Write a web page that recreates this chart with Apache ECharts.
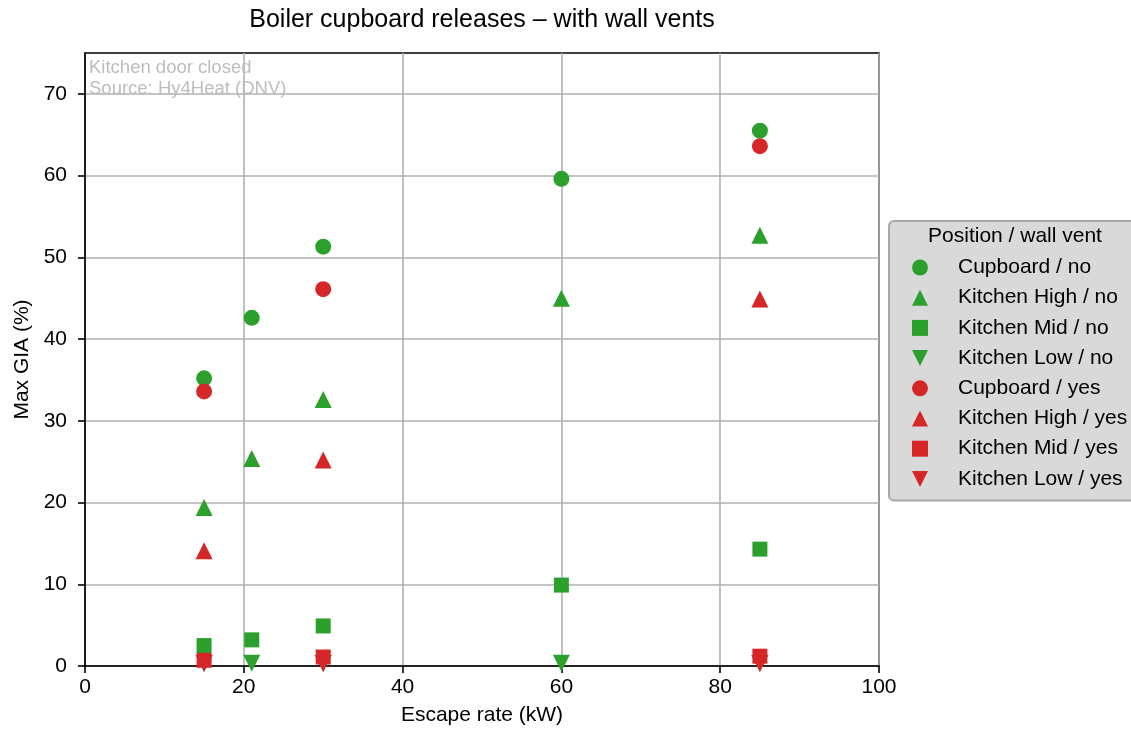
<!DOCTYPE html>
<html>
<head>
<meta charset="utf-8">
<script src="https://cdn.jsdelivr.net/npm/echarts@6/dist/echarts.min.js"></script>
<style>
html,body{margin:0;padding:0;background:#fff;}
#chart{width:1131px;height:738px;}
</style>
</head>
<body>
<div id="chart"></div>
<script>
// ---- data ----
const cupboardNoX = [15, 21, 30, 60, 85];
const cupboardNoY = [35.2, 42.6, 51.3, 59.6, 65.5];
const highNoX = [15, 21, 30, 60, 85];
const highNoY = [19.4, 25.4, 32.6, 45.0, 52.7];
const midNoX = [15, 21, 30, 60, 85];
const midNoY = [2.5, 3.2, 4.9, 9.9, 14.3];
const lowNoX = [15, 21, 30, 60, 85];
const lowNoY = [0.3, 0.35, 0.3, 0.35, 0.3];
const cupboardYesX = [15, 30, 85];
const cupboardYesY = [33.6, 46.1, 63.6];
const highYesX = [15, 30, 85];
const highYesY = [14.1, 25.2, 44.9];
const midYesX = [15, 30, 85];
const midYesY = [0.7, 1.1, 1.2];
const lowYesX = [15, 30, 85];
const lowYesY = [0.3, 0.3, 0.3];

const seriesNames = ['Cupboard / no', 'Kitchen High / no', 'Kitchen Mid / no', 'Kitchen Low / no',
  'Cupboard / yes', 'Kitchen High / yes', 'Kitchen Mid / yes', 'Kitchen Low / yes'];
const xTicks = [0, 20, 40, 60, 80, 100];
const yTicks = [0, 10, 20, 30, 40, 50, 60, 70];

const titleText = 'Boiler cupboard releases – with wall vents';
const xName = 'Escape rate (kW)';
const yName = 'Max GIA (%)';
const noteText = 'Kitchen door closed\nSource: Hy4Heat (DNV)';
const legendTitle = 'Position / wall vent';

// ---- styling ----
const GREEN = '#2ca02c', RED = '#d62728';
const FONT = '"Liberation Sans", Arial, Helvetica, sans-serif';
const DOWN = 'path://M0,0L2,0L1,2Z';

function pairs(xs, ys){ return xs.map((x, i) => [x, ys[i]]); }

const seriesData = [
  [cupboardNoX, cupboardNoY, GREEN, 'circle'],
  [highNoX, highNoY, GREEN, 'triangle'],
  [midNoX, midNoY, GREEN, 'rect'],
  [lowNoX, lowNoY, GREEN, DOWN],
  [cupboardYesX, cupboardYesY, RED, 'circle'],
  [highYesX, highYesY, RED, 'triangle'],
  [midYesX, midYesY, RED, 'rect'],
  [lowYesX, lowYesY, RED, DOWN]
];

const series = seriesData.map((d, i) => ({
  name: seriesNames[i],
  type: 'scatter',
  symbol: d[3],
  symbolSize: d[3] === 'circle' ? 16 : (d[3] === 'rect' ? 15 : 17),
  itemStyle: { color: d[2], opacity: 1 },
  data: pairs(d[0], d[1]),
  z: 3 + i,
  emphasis: { disabled: true },
  clip: false
}));

const chart = echarts.init(document.getElementById('chart'), null, { renderer: 'canvas' });
chart.setOption({
  animation: false,
  backgroundColor: '#ffffff',
  textStyle: { fontFamily: FONT },
  title: {
    text: titleText,
    left: 482, top: 8, textAlign: 'center', padding: 0,
    textStyle: { fontFamily: FONT, fontSize: 25, fontWeight: 'normal', color: '#000' }
  },
  grid: {
    left: 85, right: 252, top: 53, bottom: 72,
    show: true, borderColor: '#000', borderWidth: 1.6, backgroundColor: 'transparent'
  },
  xAxis: {
    type: 'value', min: 0, max: 100, interval: 20,
    name: xName, nameLocation: 'middle', nameGap: 39,
    nameTextStyle: { fontFamily: FONT, fontSize: 21, color: '#000' },
    axisLine: { show: true, onZero: false, lineStyle: { color: '#000', width: 1.6 } },
    axisTick: { show: true, length: 7, lineStyle: { color: '#000', width: 1.6 } },
    axisLabel: { fontFamily: FONT, fontSize: 21, color: '#000', margin: 11 },
    splitLine: { show: true, lineStyle: { color: '#b0b0b0', width: 1.6 } }
  },
  yAxis: {
    type: 'value', min: 0, max: 75, interval: 10,
    name: yName, nameLocation: 'middle', nameGap: 52, nameRotate: 90,
    nameTextStyle: { fontFamily: FONT, fontSize: 21, color: '#000' },
    axisLine: { show: true, onZero: false, lineStyle: { color: '#000', width: 1.6 } },
    axisTick: { show: true, length: 7, lineStyle: { color: '#000', width: 1.6 }, customValues: yTicks },
    axisLabel: { fontFamily: FONT, fontSize: 21, color: '#000', margin: 18, customValues: yTicks },
    splitLine: { show: true, lineStyle: { color: '#b0b0b0', width: 1.6 } }
  },
  legend: {
    orient: 'vertical',
    left: 889, top: 221,
    padding: [36, 30, 11, 23],
    itemWidth: 16, itemHeight: 16, itemGap: 9.2,
    backgroundColor: '#d9d9d9',
    borderColor: '#a8a8a8', borderWidth: 2, borderRadius: 5,
    textStyle: { fontFamily: FONT, fontSize: 21, color: '#000', lineHeight: 21, padding: [0, 0, 0, 25] },
    data: seriesNames,
    selectedMode: false
  },
  graphic: [
    {
      type: 'text', left: 89, top: 58, z: 1,
      style: { text: noteText, fontFamily: FONT, fontSize: 18.5, lineHeight: 20.5, fill: '#bdbdbd' }
    },
    {
      type: 'text', x: 1015, y: 236, z: 100,
      style: { text: legendTitle, fontFamily: FONT, fontSize: 21, fill: '#000', align: 'center', verticalAlign: 'middle' }
    }
  ],
  series: series
});
</script>
</body>
</html>
